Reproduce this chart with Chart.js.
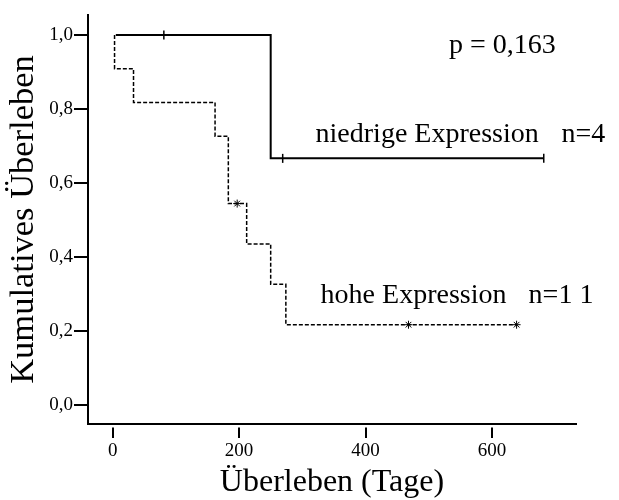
<!DOCTYPE html>
<html>
<head>
<meta charset="utf-8">
<script src="https://cdn.jsdelivr.net/npm/chart.js@4"></script>
<style>
  body { margin: 0; background: #fff; }
  #wrap { width: 619px; height: 500px; }
</style>
</head>
<body>
<div id="wrap"><canvas id="kmChart"></canvas></div>
<script>
var dayTicks = [0, 200, 400, 600];
var survivalTicks = [0, 0.2, 0.4, 0.6, 0.8, 1.0];

// niedrige Expression (n = 4): step curve and censored cases
var lowDays = [5, 250, 682];
var lowSurvival = [1.0, 0.667, 0.667];
var lowCensorDays = [81, 269, 682];
var lowCensorSurvival = [1.0, 0.667, 0.667];

// hohe Expression (n = 11)
var highDays = [3, 3, 33, 162, 183, 212, 250, 274, 639];
var highSurvival = [1.0, 0.909, 0.818, 0.727, 0.545, 0.436, 0.327, 0.218, 0.218];
var highCensorDays = [197, 468, 639];
var highCensorSurvival = [0.545, 0.218, 0.218];

// annotations, anchored at (day, survival) of their left baseline
var labelTexts = ['p = 0,163', 'niedrige Expression', 'n=4', 'hohe Expression', 'n=1 1'];
var labelDays = [532, 321, 710, 329, 658];
var labelSurvival = [0.951, 0.712, 0.712, 0.277, 0.277];

var serif = '"Liberation Serif", "Times New Roman", serif';

function toPoints(xs, ys) {
  return xs.map(function (x, i) { return { x: x, y: ys[i] }; });
}

var textLabels = {
  id: 'textLabels',
  afterDatasetsDraw: function (chart) {
    var ctx = chart.ctx;
    var xs = chart.scales.x, ys = chart.scales.y;
    ctx.save();
    ctx.fillStyle = '#000';
    ctx.font = '28px ' + serif;
    ctx.textAlign = 'left';
    ctx.textBaseline = 'alphabetic';
    labelTexts.forEach(function (t, i) {
      ctx.fillText(t, xs.getPixelForValue(labelDays[i]), ys.getPixelForValue(labelSurvival[i]));
    });
    ctx.restore();
  }
};

var ctx = document.getElementById('kmChart').getContext('2d');
var chart = new Chart(ctx, {
  type: 'scatter',
  data: {
    datasets: [{
      label: 'niedrige Expression',
      data: toPoints(lowDays, lowSurvival),
      showLine: true,
      stepped: 'before',
      borderColor: '#000',
      borderWidth: 2,
      pointRadius: 0
    }, {
      label: 'hohe Expression',
      data: toPoints(highDays, highSurvival),
      showLine: true,
      stepped: 'before',
      borderColor: '#000',
      borderWidth: 1.5,
      borderDash: [4, 2],
      pointRadius: 0
    }, {
      label: 'zensiert niedrig',
      data: toPoints(lowCensorDays, lowCensorSurvival),
      showLine: false,
      pointStyle: 'line',
      rotation: 90,
      pointRadius: 4.5,
      borderColor: '#000',
      borderWidth: 1.5
    }, {
      label: 'zensiert hoch',
      data: toPoints(highCensorDays, highCensorSurvival),
      showLine: false,
      pointStyle: 'star',
      pointRadius: 4,
      borderColor: '#000',
      borderWidth: 1
    }]
  },
  options: {
    responsive: true,
    maintainAspectRatio: false,
    animation: false,
    layout: { padding: { top: 15, right: 43, left: 0, bottom: 0 } },
    plugins: {
      legend: { display: false },
      tooltip: { enabled: false }
    },
    scales: {
      x: {
        type: 'linear',
        min: -39,
        max: 733,
        afterBuildTicks: function (s) {
          s.ticks = dayTicks.map(function (v) { return { value: v }; });
        },
        afterFit: function (s) { s.height = 76; },
        border: { display: true, color: '#000', width: 2 },
        grid: {
          drawOnChartArea: false,
          color: '#000',
          lineWidth: 2,
          tickLength: 14,
          tickBorderDash: [0, 2.5, 11, 40]
        },
        ticks: {
          color: '#000',
          padding: 2,
          maxRotation: 0,
          font: { family: serif, size: 19 }
        },
        title: {
          display: true,
          text: 'Überleben (Tage)',
          color: '#000',
          font: { family: serif, size: 32, lineHeight: 1 },
          padding: { top: 0, bottom: 1 }
        }
      },
      y: {
        min: -0.05,
        max: 1.054,
        afterBuildTicks: function (s) {
          s.ticks = survivalTicks.map(function (v) { return { value: v }; });
        },
        afterFit: function (s) { s.width = 88; },
        border: { display: true, color: '#000', width: 2 },
        grid: {
          drawOnChartArea: false,
          color: '#000',
          lineWidth: 2,
          tickLength: 14
        },
        ticks: {
          color: '#000',
          padding: 1,
          font: { family: serif, size: 19 },
          callback: function (v) { return v.toFixed(1).replace('.', ','); }
        },
        title: {
          display: true,
          text: 'Kumulatives Überleben',
          color: '#000',
          font: { family: serif, size: 34.5, lineHeight: 1 },
          padding: { top: 7, bottom: 0 }
        }
      }
    }
  },
  plugins: [textLabels]
});
</script>
</body>
</html>
